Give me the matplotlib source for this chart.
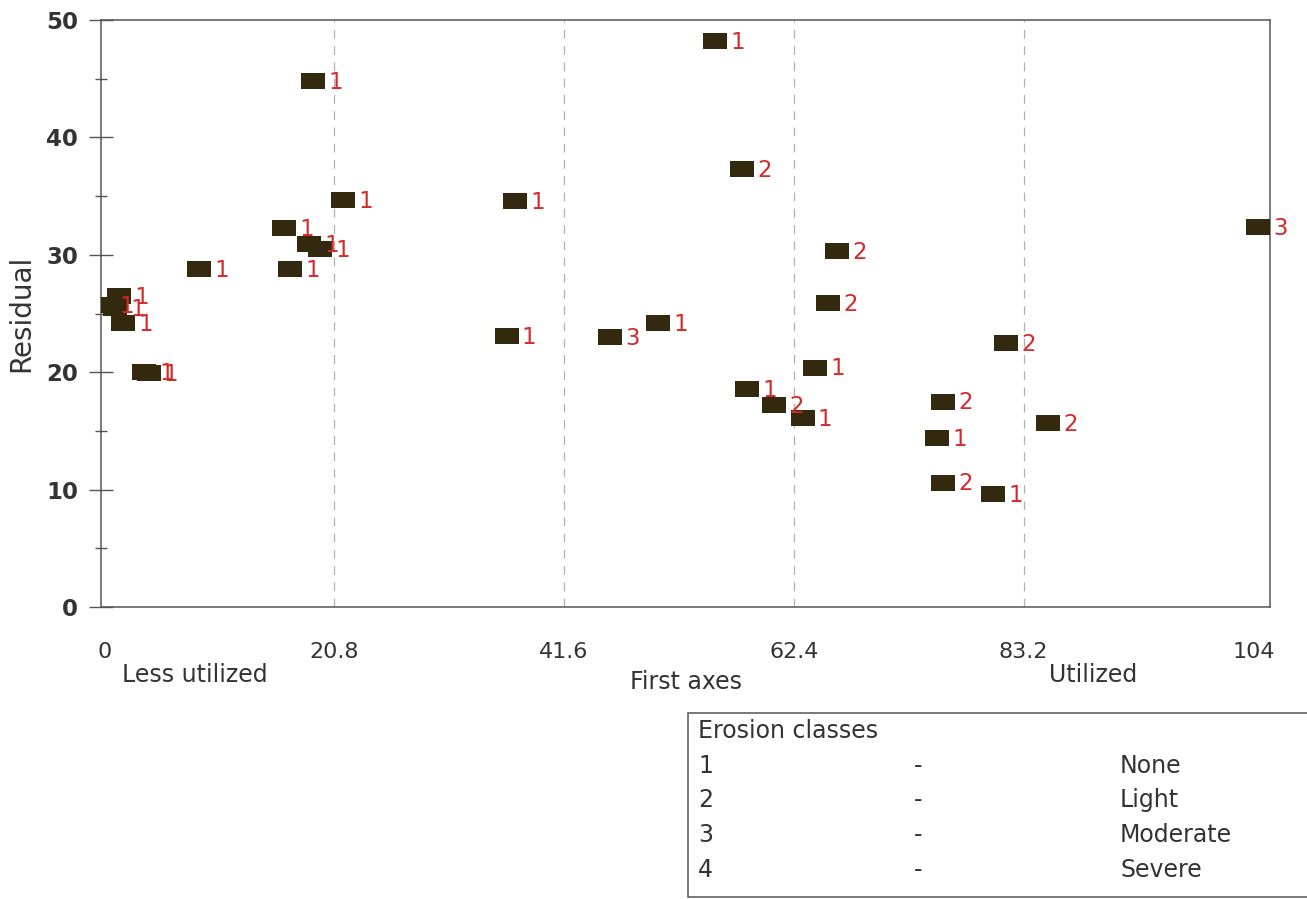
import matplotlib
matplotlib.use("Agg")
import matplotlib.pyplot as plt
from matplotlib.patches import Rectangle
from matplotlib.ticker import MultipleLocator

plt.rcParams['font.family'] = ['DejaVu Sans']

# ---- data ----
first_axis = [0.0, 1.0, 1.3, 1.7, 3.6, 4.0, 8.6, 16.3, 16.8, 18.5, 19.5, 18.9, 21.6,
              36.4, 37.2, 45.8, 50.1, 55.3, 57.7, 58.2, 60.6, 63.2, 64.3, 65.5, 66.3,
              75.4, 75.9, 75.9, 80.4, 81.6, 85.4, 104.4]
residual = [25.7, 25.5, 26.5, 24.2, 20.0, 19.9, 28.8, 32.3, 28.8, 30.9, 30.5, 44.8, 34.7,
            23.1, 34.6, 23.0, 24.2, 48.2, 37.3, 18.6, 17.2, 16.1, 20.4, 25.9, 30.3,
            14.4, 17.5, 10.6, 9.6, 22.5, 15.7, 32.4]
erosion_class = [1, 1, 1, 1, 1, 1, 1, 1, 1, 1, 1, 1, 1,
                 1, 1, 3, 1, 1, 2, 1, 2, 1, 1, 2, 2,
                 1, 2, 2, 1, 2, 2, 3]
x_ticks = [0, 20.8, 41.6, 62.4, 83.2, 104]
x_tick_labels = ['0', '20.8', '41.6', '62.4', '83.2', '104']
y_ticks = [0, 10, 20, 30, 40, 50]
legend_title = 'Erosion classes'
legend_codes = ['1', '2', '3', '4']
legend_names = ['None', 'Light', 'Moderate', 'Severe']

TXT = '#333333'
W, H = 1307, 899
fig = plt.figure(figsize=(W / 100, H / 100), dpi=100)
ax = fig.add_axes([101 / W, 1 - 607 / H, (1270 - 101) / W, (607 - 20) / H])

ax.set_xlim(-0.3, 105.5)
ax.set_ylim(0, 50)

# grid lines (vertical only)
for xv in x_ticks[1:-1]:
    ax.axvline(xv, color='#b0b0b0', lw=0.9, ls=(0, (7, 6)), zorder=0)

rect_marker = [(-1.5, -1), (1.5, -1), (1.5, 1), (-1.5, 1), (-1.5, -1)]
ax.plot(first_axis, residual, linestyle='none', marker=rect_marker, markersize=17,
        color='#33290f', markeredgewidth=0, zorder=3)

for xv, yv, c in zip(first_axis, residual, erosion_class):
    ax.annotate(str(c), (xv, yv), xytext=(11, -1), textcoords='offset points',
                ha='left', va='center', color='#d42a2a', fontsize=16.5, zorder=4)

ax.set_xticks(x_ticks)
ax.set_xticklabels(x_tick_labels)
ax.set_yticks(y_ticks)
ax.yaxis.set_minor_locator(MultipleLocator(5))
ax.tick_params(axis='x', length=0, pad=25, labelsize=16, colors=TXT)
ax.tick_params(axis='y', which='major', direction='inout', length=17, width=1,
               pad=8, labelsize=16.5, colors='#555555', labelcolor=TXT)
ax.tick_params(axis='y', which='minor', direction='inout', length=8, width=1,
               colors='#555555')
for lab in ax.get_yticklabels():
    lab.set_fontweight('bold')

for s in ax.spines.values():
    s.set_color('#555555')
    s.set_linewidth(1.1)

ax.set_ylabel('Residual', fontsize=20, color=TXT, labelpad=8)
ax.set_xlabel('First axes', fontsize=17, color=TXT, labelpad=6)

fig.text(195 / W, 1 - 675 / H, 'Less utilized', ha='center', va='center',
         fontsize=17, color=TXT)
fig.text(1093 / W, 1 - 675 / H, 'Utilized', ha='center', va='center',
         fontsize=17, color=TXT)

# legend box
fig.patches.append(Rectangle((688 / W, 1 - 897 / H), (1320 - 688) / W, (897 - 713) / H,
                             transform=fig.transFigure, facecolor='white',
                             edgecolor='#555555', lw=1.1))
fig.text(698 / W, 1 - 731 / H, legend_title, ha='left', va='center',
         fontsize=17, color=TXT)
row_y = [766, 800, 835, 870]
for ry, code, name in zip(row_y, legend_codes, legend_names):
    fig.text(698 / W, 1 - ry / H, code, ha='left', va='center', fontsize=17, color=TXT)
    fig.text(918 / W, 1 - ry / H, '-', ha='center', va='center', fontsize=17, color=TXT)
    fig.text(1120 / W, 1 - ry / H, name, ha='left', va='center', fontsize=17, color=TXT)

fig.savefig('out.png', dpi=100, facecolor='white')
